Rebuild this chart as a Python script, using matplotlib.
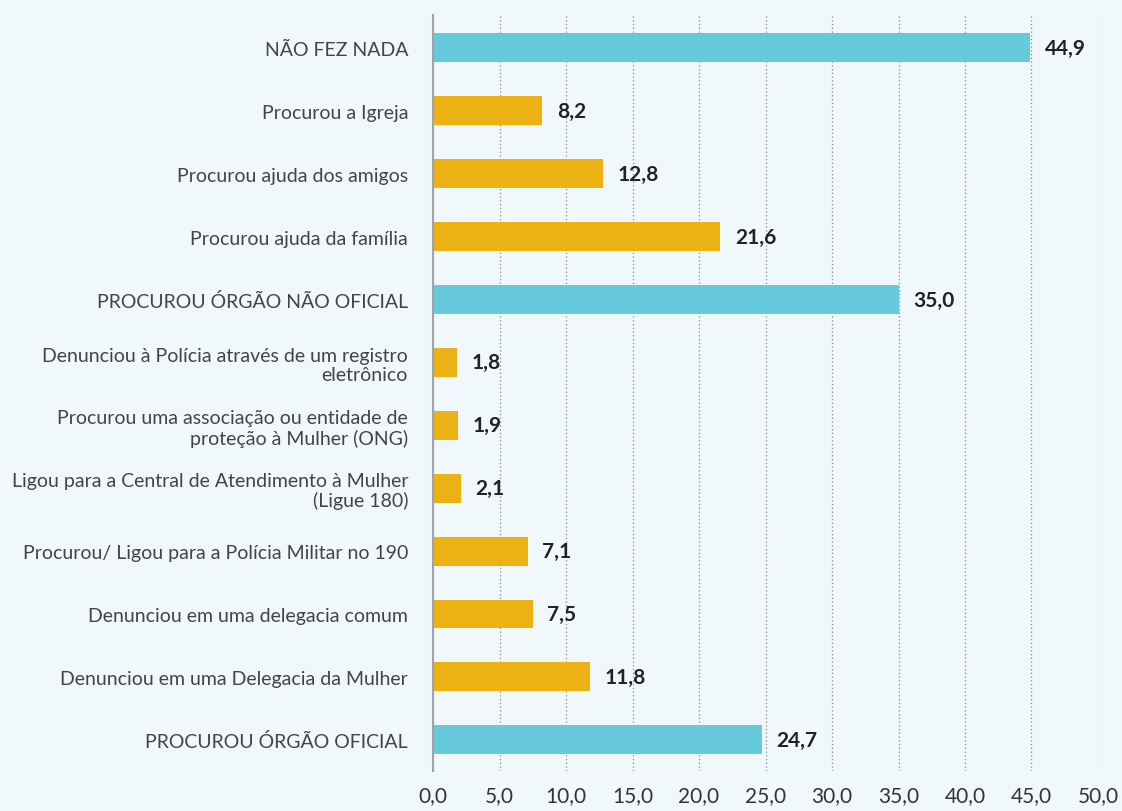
import matplotlib.pyplot as plt

categories = [
    "NÃO FEZ NADA",
    "Procurou a Igreja",
    "Procurou ajuda dos amigos",
    "Procurou ajuda da família",
    "PROCUROU ÓRGÃO NÃO OFICIAL",
    "Denunciou à Polícia através de um registro\neletrônico",
    "Procurou uma associação ou entidade de\nproteção à Mulher (ONG)",
    "Ligou para a Central de Atendimento à Mulher\n(Ligue 180)",
    "Procurou/ Ligou para a Polícia Militar no 190",
    "Denunciou em uma delegacia comum",
    "Denunciou em uma Delegacia da Mulher",
    "PROCUROU ÓRGÃO OFICIAL",
]
values = [44.9, 8.2, 12.8, 21.6, 35.0, 1.8, 1.9, 2.1, 7.1, 7.5, 11.8, 24.7]
is_group = [True, False, False, False, True, False, False, False, False, False, False, True]

BG = "#f0f8fb"
CYAN = "#67c9dc"
GOLD = "#ecb214"

plt.rcParams["font.family"] = ["Lato", "DejaVu Sans"]

fig = plt.figure(figsize=(11.22, 8.12), dpi=100, facecolor=BG)
ax = fig.add_axes([0.386, 0.049, 0.5926, 0.931], facecolor=BG)

ypos = list(range(len(categories)))
colors = [CYAN if g else GOLD for g in is_group]
ax.barh(ypos, values, height=0.46, color=colors, zorder=3)

for y, v in zip(ypos, values):
    ax.text(v + 1.1, y, f"{v:.1f}".replace(".", ","), va="center", ha="left",
            fontsize=15, fontweight="bold", color="#222222", zorder=4)

ax.set_xlim(0, 50)
ax.set_ylim(11.5, -0.52)
ax.set_xticks(range(0, 51, 5))
ax.set_xticklabels([f"{t:.1f}".replace(".", ",") for t in range(0, 51, 5)])
ax.set_yticks(ypos)
ax.set_yticklabels(categories, linespacing=1.15)

ax.tick_params(axis="x", length=0, pad=10, labelsize=15, labelcolor="#333333")
ax.tick_params(axis="y", length=0, pad=18, labelsize=14, labelcolor="#444444")

ax.grid(axis="x", linestyle=(0, (1, 2)), color="#888888", linewidth=0.9, zorder=1)
for s in ["top", "right", "bottom"]:
    ax.spines[s].set_visible(False)
ax.spines["left"].set_color("#a0a4a8")
ax.spines["left"].set_linewidth(1.5)
ax.spines["left"].set_zorder(5)

fig.savefig("out.png", dpi=100, facecolor=BG)
